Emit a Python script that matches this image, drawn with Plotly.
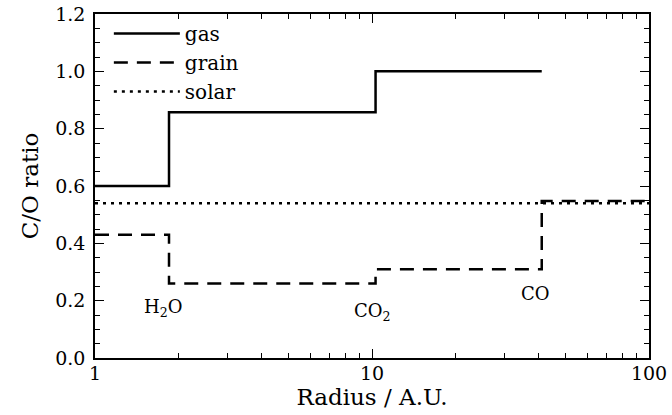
import numpy as np
import plotly.graph_objects as go

gas_r = [1, 1.85, 10.3, 41]
gas_co = [0.60, 0.857, 1.0, 1.0]
grain_r = [1, 1.85, 10.3, 41, 100]
grain_co = [0.43, 0.26, 0.31, 0.548, 0.548]
solar_r = [1, 100]
solar_co = [0.54, 0.54]
line_labels = ["H<sub>2</sub>O", "CO<sub>2</sub>", "CO"]
label_r = [1.76, 10.0, 38.8]
label_co = [0.175, 0.16, 0.225]

FONT = "DejaVu Serif"
fig = go.Figure()
fig.add_trace(go.Scatter(x=gas_r, y=gas_co, mode="lines", name="gas", line_shape="hv",
                         line=dict(color="black", width=2.5)))
fig.add_trace(go.Scatter(x=grain_r, y=grain_co, mode="lines", name="grain", line_shape="hv",
                         line=dict(color="black", width=2.5, dash="14px,9px")))
fig.add_trace(go.Scatter(x=solar_r, y=solar_co, mode="lines", name="solar",
                         line=dict(color="black", width=2.5, dash="3px,5px")))
for t, x, y in zip(line_labels, label_r, label_co):
    fig.add_annotation(x=np.log10(x), y=y, xref="x", yref="y", text=t, showarrow=False,
                       font=dict(family=FONT, size=18, color="black"))

fig.update_layout(
    width=672, height=415, margin=dict(l=95, r=23, t=14, b=57),
    plot_bgcolor="white", paper_bgcolor="white",
    font=dict(family=FONT, size=19, color="black"),
    showlegend=True,
    legend=dict(x=0.025, y=1.0, xanchor="left", yanchor="top", bgcolor="rgba(0,0,0,0)",
                itemwidth=66, font=dict(family=FONT, size=20), tracegroupgap=0),
    xaxis=dict(type="log", range=[0, 2], showgrid=False, zeroline=False, automargin=False,
               showline=True, linecolor="black", linewidth=1.5, mirror="allticks",
               ticks="inside", ticklen=9, tickcolor="black", tickvals=[1, 10, 100],
               ticktext=["1", "10", "100"], ticklabelstandoff=-3,
               minor=dict(ticks="inside", ticklen=5, tickcolor="black",
                          tickvals=[2, 3, 4, 5, 6, 7, 8, 9, 20, 30, 40, 50, 60, 70, 80, 90]),
               title=dict(text="Radius / A.U.", standoff=0)),
    yaxis=dict(range=[0, 1.2], showgrid=False, zeroline=False, automargin=False,
               showline=True, linecolor="black", linewidth=1.5, mirror="allticks",
               ticks="inside", ticklen=9, tickcolor="black", dtick=0.2, tickformat=".1f",
               ticklabelstandoff=4,
               minor=dict(ticks="inside", ticklen=5, tickcolor="black", dtick=0.05),
               title=dict(text="C/O ratio", standoff=10)),
)
fig.write_html("out.html", config={"displayModeBar": False},
               post_script="document.body.style.margin='0';")
